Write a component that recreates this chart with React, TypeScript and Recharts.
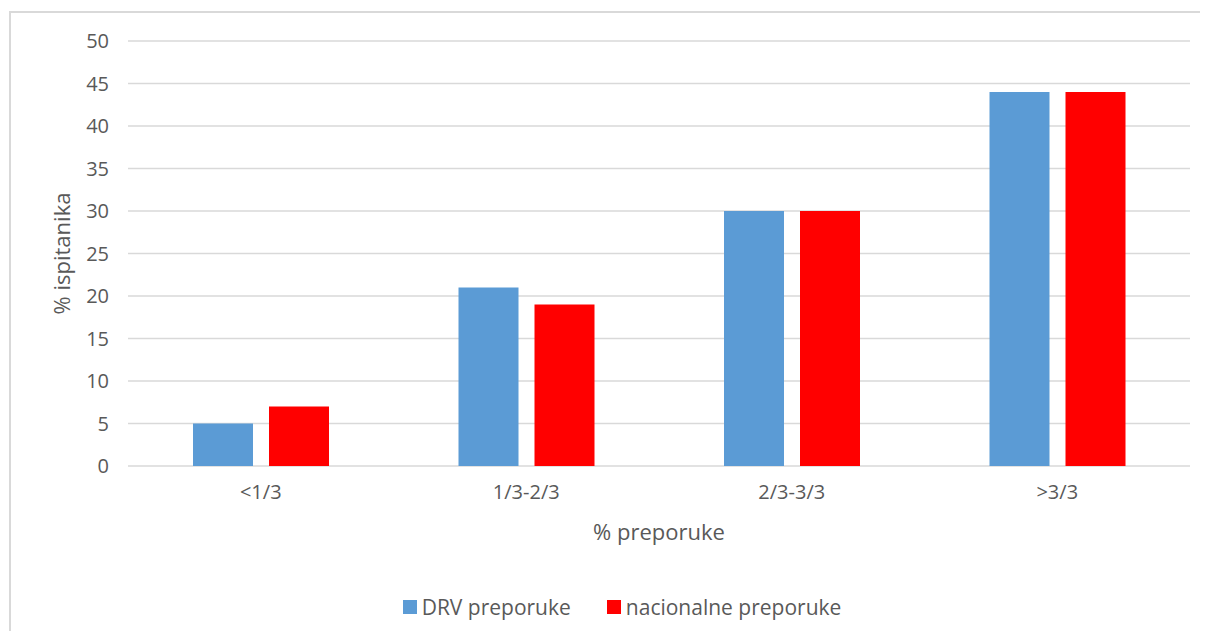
import React from 'react';
import { BarChart, Bar, XAxis, YAxis, CartesianGrid, Legend } from 'recharts';

const categories = ['<1/3', '1/3-2/3', '2/3-3/3', '>3/3'];
const drvValues = [5, 21, 30, 44];
const nationalValues = [7, 19, 30, 44];
const yTicks = [0, 5, 10, 15, 20, 25, 30, 35, 40, 45, 50];

const series = [
  { key: 'drv', name: 'DRV preporuke', color: '#5B9BD5' },
  { key: 'nac', name: 'nacionalne preporuke', color: '#FF0000' },
];

const data = categories.map((c, i) => ({ name: c, drv: drvValues[i], nac: nationalValues[i] }));

const FONT = '"Open Sans", sans-serif';
const TEXT = '#595959';

const renderLegend = () => (
  <div style={{ display: 'flex', justifyContent: 'center', gap: 36, paddingLeft: 36, fontSize: 21, lineHeight: '30px', color: TEXT, fontFamily: FONT }}>
    {series.map((s) => (
      <span key={s.key} style={{ display: 'flex', alignItems: 'center' }}>
        <span style={{ width: 14, height: 14, background: s.color, marginRight: 5, display: 'inline-block' }} />
        {s.name}
      </span>
    ))}
  </div>
);

export default function App() {
  return (
    <div style={{ position: 'relative', width: 1192, height: 623, overflow: 'hidden' }}>
      {/* frame: only top and left edges show in the picture */}
      <div style={{ position: 'absolute', left: 1, top: 3, right: 0, bottom: 0, borderTop: '2px solid #d9d9d9', borderLeft: '2px solid #d9d9d9' }} />
      <div style={{ position: 'absolute', left: 0, top: 0 }}>
        <BarChart
          width={1192} height={623} data={data}
          margin={{ top: 33, right: 10, left: 0, bottom: 9 }}
          barSize={60} barGap={16}
          style={{ fontFamily: FONT }}
        >
          <CartesianGrid stroke="#d9d9d9" strokeWidth={1.5} vertical={false} />
          <XAxis
            dataKey="name" height={126} axisLine={false} tickLine={false}
            tick={{ fontSize: 20, fill: TEXT }} tickMargin={13}
            label={{ value: '% preporuke', position: 'insideTop', offset: 58, fill: TEXT, fontSize: 22 }}
          />
          <YAxis
            width={120} domain={[0, 50]} ticks={yTicks} interval={0}
            axisLine={false} tickLine={false} tick={{ fontSize: 20, fill: TEXT }} tickMargin={13}
            label={{ value: '% ispitanika', angle: -90, position: 'insideLeft', offset: 54, fill: TEXT, fontSize: 22, style: { textAnchor: 'middle' } }}
          />
          <Legend verticalAlign="bottom" height={30} content={renderLegend} wrapperStyle={{ left: 0, width: 1192 }} />
          {series.map((s) => (
            <Bar key={s.key} dataKey={s.key} name={s.name} fill={s.color} isAnimationActive={false} />
          ))}
        </BarChart>
      </div>
    </div>
  );
}
